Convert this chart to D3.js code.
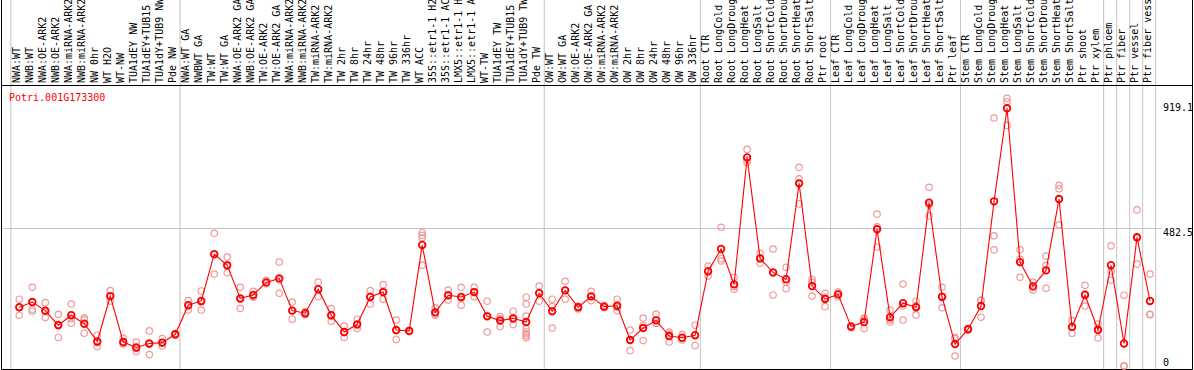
<!DOCTYPE html>
<html>
<head>
<meta charset="utf-8">
<script src="https://cdn.jsdelivr.net/npm/d3@7"></script>
<style>
  body { margin: 0; background: #fff; }
  svg { display: block; }
  text { font-family: 'DejaVu Sans Mono', monospace; font-size: 10px; }
</style>
</head>
<body>
<div class="chart"></div>
<script>
var geneName = 'Potri.001G173300';

var categories = [
  'NWA:WT', 'NWB:WT', 'NWA:OE-ARK2', 'NWB:OE-ARK2', 'NWA:miRNA-ARK2', 'NWB:miRNA-ARK2',
  'NW 0hr', 'WT H2O', 'WT-NW', 'TUA1dEY NW', 'TUA1dEY+TUB15 NW', 'TUA1dY+TUB9 NW', 'Pde NW',
  'NWA:WT GA', 'NWBWT GA', 'TW:WT', 'TW:WT GA', 'NWA:OE-ARK2 GA', 'NWB:OE-ARK2 GA',
  'TW:OE-ARK2', 'TW:OE-ARK2 GA', 'NWA:miRNA-ARK2 GA', 'NWB:miRNA-ARK2 GA', 'TW:miRNA-ARK2',
  'TW:miRNA-ARK2 GA', 'TW 2hr', 'TW 8hr', 'TW 24hr', 'TW 48hr', 'TW 96hr', 'TW 336hr',
  'WT ACC', '35S::etr1-1 H2O', '35S::etr1-1 ACC', 'LMX5::etr1-1 H2O', 'LMX5::etr1-1 ACC',
  'WT-TW', 'TUA1dEY TW', 'TUA1dEY+TUB15 TW', 'TUA1dY+TUB9 TW', 'Pde TW',
  'OW:WT', 'OW:WT GA', 'OW:OE-ARK2', 'OW:OE-ARK2 GA', 'OW:miRNA-ARK2', 'OW:miRNA-ARK2 GA',
  'OW 2hr', 'OW 8hr', 'OW 24hr', 'OW 48hr', 'OW 96hr', 'OW 336hr',
  'Root CTR', 'Root LongCold', 'Root LongDrought', 'Root LongHeat', 'Root LongSalt',
  'Root ShortCold', 'Root ShortDrought', 'Root ShortHeat', 'Root ShortSalt', 'Ptr root',
  'Leaf CTR', 'Leaf LongCold', 'Leaf LongDrought', 'Leaf LongHeat', 'Leaf LongSalt',
  'Leaf ShortCold', 'Leaf ShortDrought', 'Leaf ShortHeat', 'Leaf ShortSalt', 'Ptr leaf',
  'Stem CTR', 'Stem LongCold', 'Stem LongDrought', 'Stem LongHeat', 'Stem LongSalt',
  'Stem ShortCold', 'Stem ShortDrought', 'Stem ShortHeat', 'Stem ShortSalt', 'Ptr shoot',
  'Ptr xylem', 'Ptr phloem', 'Ptr fiber', 'Ptr vessel', 'Ptr fiber vessel'
];

// index of the first category of each group (a gray separator is drawn before it)
var groupStarts = [0, 13, 41, 53, 63, 73, 84, 85, 86, 87, 88];

var means = [
  206, 224, 194, 143, 178, 148, 86, 245, 84, 65, 79, 82, 111,
  213, 228, 392, 353, 237, 249, 293, 307, 194, 185, 269, 178, 119, 146, 242, 259, 126, 123,
  424, 188, 248, 242, 259, 174, 159, 167, 154, 255,
  192, 265, 206, 244, 208, 211, 91, 133, 160, 105, 99, 108,
  332, 410, 286, 731, 377, 328, 304, 640, 280, 235,
  251, 138, 154, 479, 171, 220, 206, 572, 242, 77,
  129, 210, 577, 903, 364, 279, 335, 585, 137, 249, 126, 353, 79, 451, 228
];

var replicates = [
  [234, 178, 205], [276, 199, 192], [222, 190, 170], [181, 100, 146], [217, 150, 166],
  [168, 115, 162], [108, 68, 82], [264, 227, 245], [98, 77, 78], [84, 51, 61],
  [123, 40, 76], [96, 70, 80], [114, 108, 111],
  [229, 196, 213], [263, 196, 224], [465, 322, 390], [382, 327, 349], [276, 202, 233],
  [262, 241, 244], [300, 288, 292], [364, 255, 302], [224, 164, 194], [190, 180, 184],
  [294, 243, 269], [201, 157, 175], [140, 100, 117], [164, 131, 143], [264, 217, 244],
  [285, 234, 259], [161, 93, 124], [125, 120, 123], [467, 449, 353, 458], [204, 178, 182],
  [266, 231, 246], [276, 213, 237], [276, 243, 259], [227, 119, 176], [173, 138, 165],
  [192, 145, 164], [241, 217, 175, 131, 120, 113, 106, 99], [280, 227, 257],
  [234, 133, 208], [297, 234, 265], [210, 200, 206], [262, 229, 243], [212, 204, 208],
  [234, 194, 206], [126, 54, 93], [168, 89, 143], [182, 150, 149], [119, 84, 112],
  [110, 91, 97], [143, 72, 107],
  [350, 315, 330], [486, 376, 368], [311, 269, 279], [759, 722, 713], [395, 360, 377],
  [410, 249, 326], [346, 271, 294], [696, 656, 568], [304, 294, 245], [255, 208, 241],
  [259, 243, 251], [142, 134, 138], [168, 131, 163], [532, 488, 417], [196, 154, 161],
  [287, 161, 211], [227, 179, 211], [626, 526, 565], [276, 204, 245], [100, 35, 96],
  [132, 126, 128], [231, 171, 229], [869, 456, 407], [938, 926, 843], [407, 374, 311],
  [294, 266, 278], [385, 353, 272], [633, 621, 495], [159, 115, 136], [283, 210, 253],
  [147, 98, 133], [421, 332, 301], [248, 1, 0], [547, 357, 448], [322, 181, 180]
];

var axisTicks = [0, 482.5, 919.1];

var width = 1194;
var height = 370;
var headerBottom = 85;
var plotBottom = 369;

var svg = d3.select('.chart')
  .append('svg')
    .attr('width', width)
    .attr('height', height);

var xBand = d3.scaleBand()
  .domain(categories)
  .range([10.9, 1155.7]);

var xScale = d3.scalePoint()
  .domain(categories)
  .range([19.3, 1150]);

var yScale = d3.scaleLinear()
  .domain([0, 919.1])
  .range([366, 103.7]);

// gray group separators
svg.append('g')
  .selectAll('line')
  .data(groupStarts)
  .enter()
  .append('line')
    .attr('x1', d => 10.9 + d * xBand.step())
    .attr('x2', d => 10.9 + d * xBand.step())
    .attr('y1', 0)
    .attr('y2', plotBottom)
    .style('stroke', '#c4c4c4')
    .style('stroke-width', 1);

// horizontal reference line at the middle tick
svg.append('line')
  .attr('x1', 2)
  .attr('x2', 1162)
  .attr('y1', Math.round(yScale(482.5)) + 0.5)
  .attr('y2', Math.round(yScale(482.5)) + 0.5)
  .style('stroke', '#c4c4c4');

// frame
svg.append('path')
  .attr('d', 'M1.5,0V' + (plotBottom + 0.5) + 'H1192.5V0')
  .style('fill', 'none')
  .style('stroke', '#000');
svg.append('line')
  .attr('x1', 1.5)
  .attr('x2', 1192.5)
  .attr('y1', headerBottom + 0.5)
  .attr('y2', headerBottom + 0.5)
  .style('stroke', '#000');

// category labels, rotated
svg.append('g')
  .selectAll('text')
  .data(categories)
  .enter()
  .append('text')
    .attr('transform', d => 'translate(' + (xScale(d) + 1) + ',83) rotate(-90)')
    .attr('text-anchor', 'start')
    .style('fill', '#000')
    .text(d => d);

// right hand value labels
svg.append('g')
  .selectAll('text')
  .data(axisTicks)
  .enter()
  .append('text')
    .attr('x', 1163)
    .attr('y', d => d === 0 ? 366 : yScale(d) + 7.5)
    .style('fill', '#000')
    .text(d => d === 0 ? '0' : d3.format('.1f')(d));

svg.append('text')
  .attr('x', 9)
  .attr('y', 101)
  .style('fill', '#f00')
  .text(geneName);

// replicate points
var reps = [];
replicates.forEach(function (r, i) {
  r.forEach(function (v) { reps.push({ name: categories[i], value: v }); });
});

svg.append('g')
  .selectAll('circle')
  .data(reps)
  .enter()
  .append('circle')
    .attr('cx', d => xScale(d.name))
    .attr('cy', d => yScale(d.value))
    .attr('r', 3.2)
    .style('fill', 'none')
    .style('stroke', '#ee9a9a')
    .style('stroke-width', 1.2);

// mean line
var line = d3.line()
  .x((d, i) => xScale(categories[i]))
  .y(d => yScale(d));

svg.append('path')
  .datum(means)
  .attr('d', line)
  .style('fill', 'none')
  .style('stroke', '#f00')
  .style('stroke-width', 1.1);

svg.append('g')
  .selectAll('circle')
  .data(means)
  .enter()
  .append('circle')
    .attr('cx', (d, i) => xScale(categories[i]))
    .attr('cy', d => yScale(d))
    .attr('r', 3.3)
    .style('fill', 'none')
    .style('stroke', '#f00')
    .style('stroke-width', 1.8);
</script>
</body>
</html>
